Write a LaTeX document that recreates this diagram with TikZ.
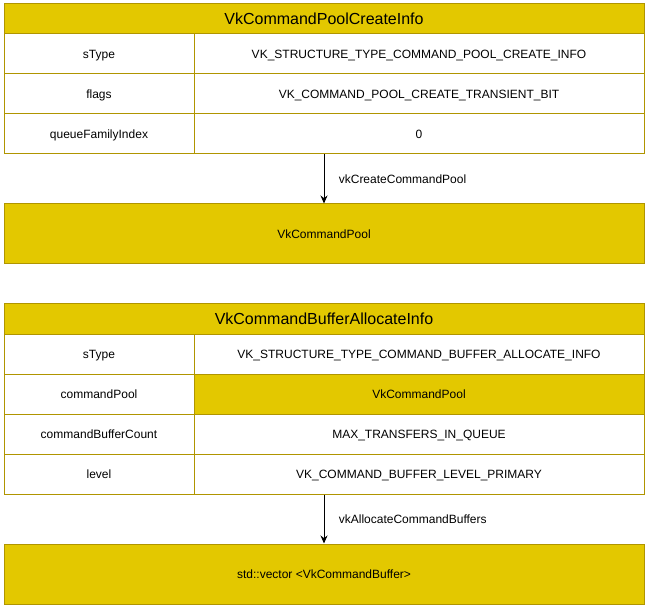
\documentclass[tikz,border=0pt]{standalone}
\usepackage{fontspec}
\setmainfont{Liberation Sans}
\usetikzlibrary{arrows.meta}
\definecolor{vkfill}{HTML}{E3C800}
\definecolor{vkline}{HTML}{B09500}

\begin{document}
\begin{tikzpicture}[x=1pt,y=-1pt]
  \useasboundingbox[fill=white] (0,0) rectangle (650,609);
  \tikzstyle{Cell}=[draw=vkline,line width=1pt,inner sep=0pt,font=\fontsize{12}{14}\selectfont,text height=8.6pt,text depth=0pt,minimum height=40pt]
  \tikzstyle{NameCell}=[Cell,minimum width=190pt]
  \tikzstyle{ValueCell}=[Cell,minimum width=450pt]
  \tikzstyle{TitleCell}=[Cell,fill=vkfill,minimum width=640pt,minimum height=30pt,font=\fontsize{16}{19}\selectfont,text height=11.5pt]
  \tikzstyle{HandleBox}=[Cell,fill=vkfill,minimum width=640pt,minimum height=60pt]
  \tikzstyle{EdgeStyle}=[-{Stealth[length=8pt,width=7pt]},line width=1pt]
  \tikzstyle{LabelStyle}=[anchor=west,xshift=11pt,font=\fontsize{12}{14}\selectfont]
  % pool create info
  \node[TitleCell] (poolinfo) at (324,19) {VkCommandPoolCreateInfo};
  \node[NameCell] (poolstype) at (99,54) {sType};
  \node[ValueCell] (poolstypev) at (419,54) {VK\_STRUCTURE\_TYPE\_COMMAND\_POOL\_CREATE\_INFO};
  \node[NameCell] (poolflags) at (99,94) {flags};
  \node[ValueCell] (poolflagsv) at (419,94) {VK\_COMMAND\_POOL\_CREATE\_TRANSIENT\_BIT};
  \node[NameCell] (poolqfi) at (99,134) {queueFamilyIndex};
  \node[ValueCell] (poolqfiv) at (419,134) {0};
  \node[HandleBox] (pool) at (324,234) {VkCommandPool};
  \draw[EdgeStyle] (pool.north |- poolqfiv.south) -- node[LabelStyle] {vkCreateCommandPool} (pool.north);
  % buffer allocate info
  \node[TitleCell] (bufinfo) at (324,319) {VkCommandBufferAllocateInfo};
  \node[NameCell] (bufstype) at (99,354) {sType};
  \node[ValueCell] (bufstypev) at (419,354) {VK\_STRUCTURE\_TYPE\_COMMAND\_BUFFER\_ALLOCATE\_INFO};
  \node[NameCell] (bufpool) at (99,394) {commandPool};
  \node[ValueCell,fill=vkfill] (bufpoolv) at (419,394) {VkCommandPool};
  \node[NameCell] (bufcount) at (99,434) {commandBufferCount};
  \node[ValueCell] (bufcountv) at (419,434) {MAX\_TRANSFERS\_IN\_QUEUE};
  \node[NameCell] (buflevel) at (99,474) {level};
  \node[ValueCell] (buflevelv) at (419,474) {VK\_COMMAND\_BUFFER\_LEVEL\_PRIMARY};
  \node[HandleBox] (buffers) at (324,574) {std::vector <VkCommandBuffer>};
  \draw[EdgeStyle] (buffers.north |- buflevelv.south) -- node[LabelStyle] {vkAllocateCommandBuffers} (buffers.north);
\end{tikzpicture}
\end{document}
